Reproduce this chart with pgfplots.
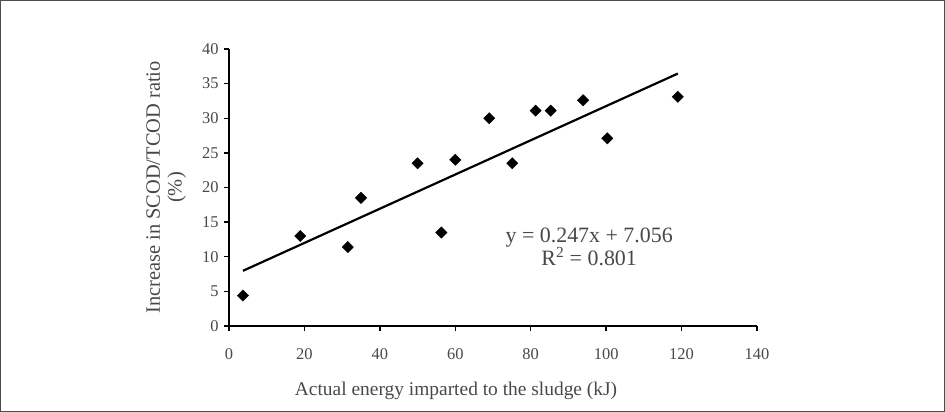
\documentclass[border=0pt]{standalone}
\usepackage{pgfplots}
\pgfplotsset{compat=1.18}
\usepackage{fontspec}
\setmainfont{Liberation Serif}
\definecolor{txtgray}{HTML}{484848}
\begin{document}
\begin{tikzpicture}
\begin{axis}[
    scale only axis,
    width=528bp, height=277bp,
    xmin=0, xmax=140,
    ymin=0, ymax=40,
    xtick={0,20,...,140},
    ytick={0,5,...,40},
    axis lines=left,
    axis line style={-, line width=1.8bp, black},
    every tick/.style={black, line width=1.4bp},
    tick align=outside,
    major tick length=5bp,
    tick label style={font=\fontsize{16.5}{18}\selectfont, text=txtgray},
    /pgf/number format/assume math mode=true,
    xticklabel style={yshift=-14bp},
    yticklabel style={xshift=-2bp},
    xlabel={Actual energy imparted to the sludge (kJ)},
    ylabel={Increase in SCOD/TCOD ratio\\(\%)},
    xlabel style={font=\fontsize{19.5}{22}\selectfont, text=txtgray,
        at={(axis description cs:0.43,-0.233)}, anchor=center},
    ylabel style={font=\fontsize{20.5}{22}\selectfont, text=txtgray,
        at={(axis description cs:-0.119,0.5)}, anchor=center, rotate=0, align=center},
    clip=false,
]
\addplot[only marks, mark=square*, mark size=4bp, mark options={rotate=45, fill=black, draw=black}]
coordinates {
    (3.7,4.4) (18.9,13.0) (31.5,11.4) (35.0,18.5) (50.0,23.5) (56.3,13.5)
    (60.0,24.0) (69.0,30.0) (75.1,23.5) (81.3,31.1) (85.3,31.1) (93.9,32.6)
    (100.3,27.1) (119.0,33.1)
};
\addplot[black, line width=2.2bp] coordinates {(3.7,7.97) (119,36.45)};
\node[font=\fontsize{22}{23}\selectfont, text=txtgray, align=center]
    at (axis cs:95.5,11.45) {y = 0.247x + 7.056\\R\textsuperscript{2} = 0.801};
\end{axis}
\draw[gray!60!black, line width=1.5bp] (-228.25bp,-85.25bp) rectangle (715.25bp,325.25bp);
\path[use as bounding box] (-229bp,-86bp) rectangle (716bp,326bp);
\end{tikzpicture}
\end{document}
